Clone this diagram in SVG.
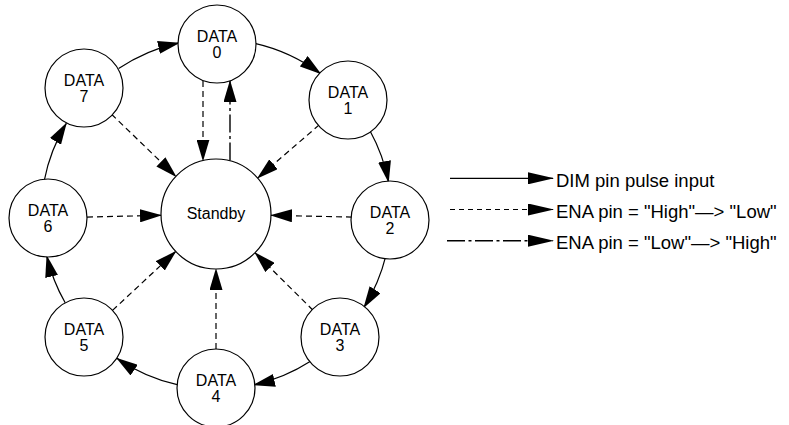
<svg xmlns="http://www.w3.org/2000/svg" width="789" height="425" viewBox="0 0 789 425">
<style>
  .node circle { fill: #fff; stroke: #000; stroke-width: 1.2; }
  .node text, .legend text { font-family: "Liberation Sans", Arial, Helvetica, sans-serif; fill: #000; }
  .node text { font-size: 16px; text-anchor: middle; }
  .legend text { font-size: 18.5px; }
  .solid { fill: none; stroke: #000; stroke-width: 1.2; marker-end: url(#ah); }
  .dash { fill: none; stroke: #000; stroke-width: 1.2; stroke-dasharray: 6 4; marker-end: url(#ah); }
  .dashdot { fill: none; stroke: #000; stroke-width: 1.4; stroke-dasharray: 18 3.5 3 3.5; marker-end: url(#ah); }
  .lsolid { fill: none; stroke: #000; stroke-width: 1.2; marker-end: url(#lah); }
  .ldash { fill: none; stroke: #000; stroke-width: 1.2; stroke-dasharray: 5 4; marker-end: url(#lah); }
  .ldashdot { fill: none; stroke: #000; stroke-width: 1.4; stroke-dasharray: 18 3.5 3 3.5; marker-end: url(#lah); }
</style>
<defs>
  <marker id="ah" markerUnits="userSpaceOnUse" markerWidth="22" markerHeight="13" refX="21" refY="6.5" orient="auto">
    <path d="M0,0 L22,6.5 L0,13 z" fill="#000"/>
  </marker>
  <marker id="lah" markerUnits="userSpaceOnUse" markerWidth="26" markerHeight="12" refX="25" refY="6" orient="auto">
    <path d="M0,0 L26,6 L0,12 z" fill="#000"/>
  </marker>
</defs>

<g id="connectors">
  <!-- ring transitions (DIM pulse) -->
  <path class="solid" d="M254.8,43.4 A175,175 0 0 1 320.6,73.7"/>
  <path class="solid" d="M370.1,131.0 A175,175 0 0 1 388.5,182.0"/>
  <path class="solid" d="M385.9,255.7 A175,175 0 0 1 363.9,307.5"/>
  <path class="solid" d="M310.5,361.3 A175,175 0 0 1 253.9,384.9"/>
  <path class="solid" d="M178.1,384.9 A175,175 0 0 1 116.9,358.2"/>
  <path class="solid" d="M65.2,302.8 A175,175 0 0 1 46.8,256.0"/>
  <path class="solid" d="M44.3,180.3 A175,175 0 0 1 66.3,123.4"/>
  <path class="solid" d="M118.6,68.6 A175,175 0 0 1 179.0,42.9"/>
  <!-- ENA High->Low to standby -->
  <path class="dash" d="M203,81 L203,160.5"/>
  <path class="dash" d="M319.2,124.9 L257.6,178.0"/>
  <path class="dash" d="M352,217.1 L271,215.3"/>
  <path class="dash" d="M313,310.2 L255,252.7"/>
  <path class="dash" d="M216,349 L216,269"/>
  <path class="dash" d="M112.5,310.4 L175.7,251.5"/>
  <path class="dash" d="M87,217.1 L161,215.3"/>
  <path class="dash" d="M111.5,114.2 L176,176.5"/>
  <!-- ENA Low->High back to DATA 0 -->
  <path class="dashdot" d="M230,160.5 L230,81"/>
</g>

<g id="standby" class="node">
  <circle cx="216" cy="214" r="55"/>
  <text x="216" y="219">Standby</text>
</g>
<g id="data0" class="node">
  <circle cx="217" cy="44" r="39"/>
  <text x="217" y="42">DATA</text><text x="217" y="58">0</text>
</g>
<g id="data1" class="node">
  <circle cx="348" cy="100" r="39"/>
  <text x="348" y="98">DATA</text><text x="348" y="114">1</text>
</g>
<g id="data2" class="node">
  <circle cx="390" cy="220" r="39"/>
  <text x="390" y="218">DATA</text><text x="390" y="234">2</text>
</g>
<g id="data3" class="node">
  <circle cx="340" cy="337" r="39"/>
  <text x="340" y="335">DATA</text><text x="340" y="351">3</text>
</g>
<g id="data4" class="node">
  <circle cx="216" cy="388" r="39"/>
  <text x="216" y="386">DATA</text><text x="216" y="402">4</text>
</g>
<g id="data5" class="node">
  <circle cx="84" cy="337" r="39"/>
  <text x="84" y="335">DATA</text><text x="84" y="351">5</text>
</g>
<g id="data6" class="node">
  <circle cx="48" cy="218" r="39"/>
  <text x="48" y="216">DATA</text><text x="48" y="232">6</text>
</g>
<g id="data7" class="node">
  <circle cx="84" cy="88" r="39"/>
  <text x="84" y="86">DATA</text><text x="84" y="102">7</text>
</g>

<g id="legend" class="legend">
  <path class="lsolid" d="M450,178.3 L553,178.3"/>
  <text x="556" y="186.5">DIM pin pulse input</text>
  <path class="ldash" d="M450,209.5 L553,209.5"/>
  <text x="556" y="217.5">ENA pin = "High"—&gt; "Low"</text>
  <path class="ldashdot" d="M447,240.7 L553,240.7"/>
  <text x="556" y="248.5">ENA pin = "Low"—&gt; "High"</text>
</g>
</svg>
